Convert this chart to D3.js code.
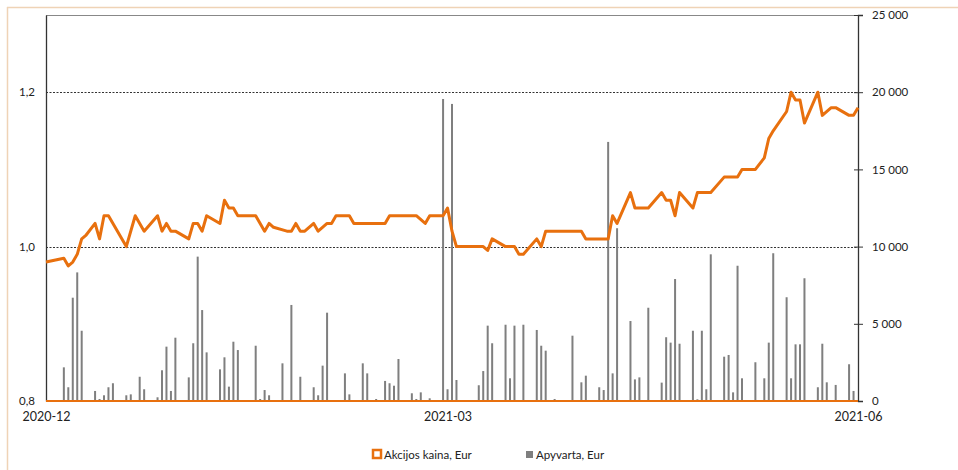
<!DOCTYPE html>
<html><head><meta charset="utf-8">
<script src="https://cdn.jsdelivr.net/npm/d3@7"></script>
<style>body{margin:0;background:#fff;}svg{display:block;font-family:Lato,"Open Sans",sans-serif;}</style>
</head><body>
<svg id="c" width="958" height="470"></svg>
<script>
const priceDates = ["2020-12-01","2020-12-05","2020-12-06","2020-12-07","2020-12-08","2020-12-09","2020-12-10","2020-12-12","2020-12-13","2020-12-14","2020-12-15","2020-12-19","2020-12-21","2020-12-23","2020-12-26","2020-12-27","2020-12-28","2020-12-29","2020-12-30","2021-01-02","2021-01-03","2021-01-04","2021-01-05","2021-01-06","2021-01-09","2021-01-10","2021-01-11","2021-01-12","2021-01-13","2021-01-17","2021-01-19","2021-01-20","2021-01-21","2021-01-24","2021-01-25","2021-01-26","2021-01-27","2021-01-28","2021-01-30","2021-01-31","2021-02-02","2021-02-03","2021-02-04","2021-02-07","2021-02-08","2021-02-15","2021-02-16","2021-02-22","2021-02-24","2021-02-25","2021-02-28","2021-03-01","2021-03-02","2021-03-03","2021-03-09","2021-03-10","2021-03-11","2021-03-14","2021-03-16","2021-03-17","2021-03-18","2021-03-21","2021-03-22","2021-03-23","2021-03-31","2021-04-01","2021-04-06","2021-04-07","2021-04-08","2021-04-11","2021-04-12","2021-04-15","2021-04-18","2021-04-19","2021-04-20","2021-04-21","2021-04-22","2021-04-25","2021-04-26","2021-04-29","2021-05-02","2021-05-05","2021-05-06","2021-05-09","2021-05-11","2021-05-12","2021-05-13","2021-05-16","2021-05-17","2021-05-18","2021-05-19","2021-05-20","2021-05-23","2021-05-24","2021-05-26","2021-05-27","2021-05-30","2021-05-31","2021-06-01"];
const priceValues = [0.98,0.985,0.975,0.98,0.99,1.01,1.015,1.03,1.01,1.04,1.04,1.00,1.04,1.02,1.04,1.02,1.03,1.02,1.02,1.01,1.03,1.03,1.02,1.04,1.03,1.06,1.05,1.05,1.04,1.04,1.02,1.03,1.025,1.02,1.02,1.03,1.02,1.02,1.03,1.02,1.03,1.03,1.04,1.04,1.03,1.03,1.04,1.04,1.03,1.04,1.04,1.05,1.02,1.00,1.00,0.995,1.01,1.00,1.00,0.99,0.99,1.01,1.00,1.02,1.02,1.01,1.01,1.04,1.03,1.07,1.05,1.05,1.07,1.06,1.06,1.04,1.07,1.05,1.07,1.07,1.09,1.09,1.10,1.10,1.115,1.14,1.15,1.175,1.20,1.19,1.19,1.16,1.20,1.17,1.18,1.18,1.17,1.17,1.18];

const turnoverDates = ["2020-12-05","2020-12-06","2020-12-07","2020-12-08","2020-12-09","2020-12-12","2020-12-13","2020-12-14","2020-12-15","2020-12-16","2020-12-19","2020-12-20","2020-12-22","2020-12-23","2020-12-26","2020-12-27","2020-12-28","2020-12-29","2020-12-30","2021-01-02","2021-01-03","2021-01-04","2021-01-05","2021-01-06","2021-01-09","2021-01-10","2021-01-11","2021-01-12","2021-01-13","2021-01-17","2021-01-18","2021-01-19","2021-01-20","2021-01-23","2021-01-25","2021-01-27","2021-01-30","2021-01-31","2021-02-01","2021-02-02","2021-02-06","2021-02-07","2021-02-10","2021-02-11","2021-02-13","2021-02-15","2021-02-16","2021-02-17","2021-02-18","2021-02-21","2021-02-22","2021-02-23","2021-02-25","2021-02-28","2021-03-01","2021-03-02","2021-03-03","2021-03-08","2021-03-09","2021-03-10","2021-03-11","2021-03-14","2021-03-15","2021-03-16","2021-03-18","2021-03-21","2021-03-22","2021-03-23","2021-03-25","2021-03-29","2021-03-31","2021-04-01","2021-04-04","2021-04-05","2021-04-06","2021-04-07","2021-04-08","2021-04-11","2021-04-12","2021-04-13","2021-04-15","2021-04-18","2021-04-19","2021-04-20","2021-04-21","2021-04-22","2021-04-25","2021-04-26","2021-04-27","2021-04-28","2021-04-29","2021-05-02","2021-05-03","2021-05-04","2021-05-05","2021-05-06","2021-05-09","2021-05-11","2021-05-12","2021-05-13","2021-05-16","2021-05-17","2021-05-18","2021-05-19","2021-05-20","2021-05-23","2021-05-24","2021-05-25","2021-05-27","2021-05-30","2021-05-31"];
const turnoverValues = [2180,890,6690,8330,4550,650,130,370,890,1150,370,430,1570,760,240,1990,3520,650,4100,1530,3740,9350,5890,3150,2050,2830,930,3840,3300,3580,130,710,370,2440,6220,1570,890,370,2290,5720,1790,430,2440,1790,130,1300,1150,990,2720,500,130,560,175,19560,760,19240,1360,1020,1940,4880,3740,4940,1470,4880,4940,4600,3580,3260,130,4230,1210,1640,890,710,16780,1790,11190,5180,1400,1530,6040,1190,4130,3780,7900,3710,4550,110,4550,760,9500,2870,2980,560,8760,1470,2510,1470,3780,9570,6720,1470,3670,3670,7950,890,3710,1210,1040,2380,650];

const leftTicks = [0.8, 1.0, 1.2];
const rightTicks = [0, 5000, 10000, 15000, 20000, 25000];
const xTickDates = ["2020-12-01","2021-03-01","2021-06-01"];
const xTickLabels = ["2020-12","2021-03","2021-06"];
const seriesNames = ["Akcijos kaina, Eur","Apyvarta, Eur"];

const parse = d3.timeParse("%Y-%m-%d");
const L = 46, R = 858, T = 15, B = 401;
const orange = "#e8700e", gray = "#7f7f7f";
const svg = d3.select("#c");

// outer frame
svg.append("line").attr("x1",7).attr("x2",958).attr("y1",7.5).attr("y2",7.5).attr("stroke","#efd3b6").attr("stroke-width",1.5);
svg.append("line").attr("x1",7.5).attr("x2",7.5).attr("y1",7).attr("y2",470).attr("stroke","#efd3b6").attr("stroke-width",1.5);

const x = d3.scaleTime().domain([parse("2020-12-01"), parse("2021-06-01")]).range([L, R]);
const yL = d3.scaleLinear().domain([0.8, 1.3]).range([B, T]);
const yR = d3.scaleLinear().domain([0, 25000]).range([B, T]);

// gridlines
svg.append("g").selectAll("line").data([1.0, 1.2]).join("line")
  .attr("x1", L).attr("x2", R).attr("y1", d => Math.round(yL(d)) + 0.5).attr("y2", d => Math.round(yL(d)) + 0.5)
  .attr("stroke", "#333").attr("stroke-width", 1).attr("stroke-dasharray", "2,1.5");

// top border
svg.append("line").attr("x1", L).attr("x2", R).attr("y1", T + 0.5).attr("y2", T + 0.5).attr("stroke", "#888").attr("stroke-width", 1);

// bars
const bars = turnoverDates.map((d, i) => ({ date: parse(d), v: turnoverValues[i] }));
svg.append("g").selectAll("rect").data(bars).join("rect")
  .attr("x", d => x(d.date) - 1).attr("width", 2)
  .attr("y", d => yR(d.v)).attr("height", d => B - yR(d.v))
  .attr("fill", gray);

// left axis
const axL = d3.axisLeft(yL).tickValues(leftTicks).tickSize(0).tickPadding(11)
  .tickFormat(d => d3.format(".1f")(d).replace(".", ","));
const gL = svg.append("g").attr("transform", `translate(${L},0)`).call(axL);
gL.select(".domain").attr("stroke", "#333").attr("stroke-width", 1.3);
gL.selectAll("text").attr("font-size", 11.5).attr("fill", "#222").attr("font-family", "Lato, sans-serif");

// right axis
const axR = d3.axisRight(yR).tickValues(rightTicks).tickSize(5).tickPadding(9)
  .tickFormat(d => d3.format(",")(d).replace(/,/g, " "));
const gR = svg.append("g").attr("transform", `translate(${R},0)`).call(axR);
gR.select(".domain").attr("stroke", "#333").attr("stroke-width", 1.3);
gR.selectAll(".tick line").attr("stroke", "#333").attr("x1", -4).attr("x2", 5);
gR.selectAll("text").attr("font-size", 11.5).attr("fill", "#222").attr("font-family", "Lato, sans-serif");

// bottom axis (orange baseline)
svg.append("line").attr("x1", L).attr("x2", R).attr("y1", B).attr("y2", B).attr("stroke", orange).attr("stroke-width", 2);

const axB = d3.axisBottom(x).tickValues(xTickDates.map(parse)).tickSize(0).tickPadding(11)
  .tickFormat((d, i) => xTickLabels[i]);
const gB = svg.append("g").attr("transform", `translate(0,${B})`).call(axB);
gB.select(".domain").remove();
gB.selectAll("text").attr("font-size", 12.5).attr("fill", "#222").attr("font-family", "Lato, sans-serif");

// price line
const pts = priceDates.map((d, i) => ({ date: parse(d), v: priceValues[i] }));
svg.append("path").datum(pts)
  .attr("d", d3.line().x(d => x(d.date)).y(d => yL(d.v)))
  .attr("fill", "none").attr("stroke", orange).attr("stroke-width", 3).attr("stroke-linejoin", "round");

// legend
const lg = svg.append("g").attr("font-family", "Lato, sans-serif").attr("font-size", 11.5).attr("fill", "#222");
lg.append("rect").attr("x", 373).attr("y", 450).attr("width", 8).attr("height", 8).attr("fill", "#fff").attr("stroke", orange).attr("stroke-width", 2.5);
lg.append("text").attr("x", 384).attr("y", 458.5).text(seriesNames[0]);
lg.append("rect").attr("x", 526).attr("y", 451).attr("width", 7).attr("height", 7).attr("fill", gray);
lg.append("text").attr("x", 536).attr("y", 458.5).text(seriesNames[1]);
</script>
</body></html>
